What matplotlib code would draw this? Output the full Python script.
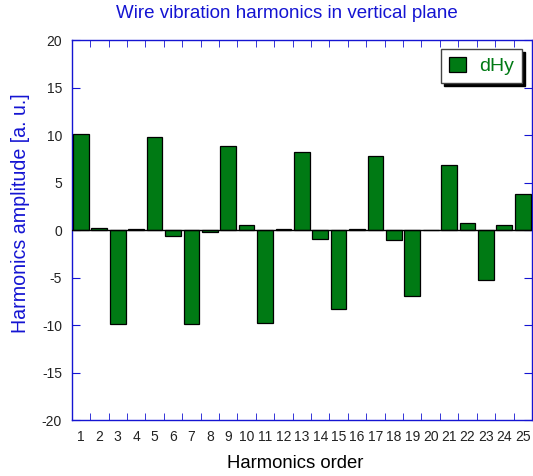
import matplotlib
matplotlib.use("Agg")
import matplotlib.pyplot as plt

plt.rcParams['font.family'] = ['Liberation Sans', 'DejaVu Sans']
plt.rcParams['axes.unicode_minus'] = False

orders = list(range(1, 26))
dHy = [10.1, 0.2, -9.85, 0.1, 9.8, -0.6, -9.85, -0.15, 8.9, 0.55,
       -9.8, 0.1, 8.25, -0.95, -8.3, 0.1, 7.8, -1.05, -6.9, 0.0,
       6.9, 0.8, -5.2, 0.55, 3.8]

blue = '#1414d2'
green = '#007a14'

W, H = 533, 476
fig = plt.figure(figsize=(W / 100, H / 100), dpi=100)
ax = fig.add_axes([0.1345, 0.1176, 0.8635, 0.7977])

ax.bar(orders, dHy, width=0.85, color=green, edgecolor='black', linewidth=0.9,
       label='dHy', zorder=3)
ax.axhline(0, color='black', linewidth=1.0, zorder=4)

ax.set_xlim(0.5, 25.5)
ax.set_ylim(-20, 20)
ax.set_yticks(range(-20, 21, 5))
ax.set_xticks(orders)
ax.set_xticks([o + 0.5 for o in orders[:-1]], minor=True)

for s in ax.spines.values():
    s.set_color(blue)
    s.set_linewidth(1.0)

ax.tick_params(axis='x', which='major', length=0, labelsize=10, colors='#222222', pad=7)
ax.tick_params(axis='x', which='minor', direction='in', length=5, color=blue,
               top=True, bottom=True)
ax.tick_params(axis='y', which='major', direction='in', length=6, color=blue,
               left=True, right=True, labelsize=10, labelcolor='#222222', pad=7)

# title / labels placed in figure pixels to match the reference
fig.text(286.5 / W, 1 - 14 / H, 'Wire vibration harmonics in vertical plane',
         color=blue, fontsize=13.5, ha='center', va='center')
fig.text(20.5 / W, 1 - 213.5 / H, 'Harmonics amplitude [a. u.]', color=blue,
         fontsize=14.1, rotation=90, ha='center', va='center')
fig.text(295.5 / W, 1 - 463 / H, 'Harmonics order', color='black',
         fontsize=13.3, ha='center', va='center')

leg = ax.legend(loc='upper right', fontsize=14, frameon=True, fancybox=False,
                shadow={'color': 'black', 'alpha': 1.0},
                handlelength=0.86, handleheight=0.86, handletextpad=0.7,
                borderpad=0.4, borderaxespad=0,
                bbox_to_anchor=(522 / W, 1 - 49 / H),
                bbox_transform=fig.transFigure)
leg.get_frame().set_edgecolor('#444444')
leg.get_frame().set_linewidth(1.0)
for t in leg.get_texts():
    t.set_color(green)

fig.savefig('out.png', dpi=100)
